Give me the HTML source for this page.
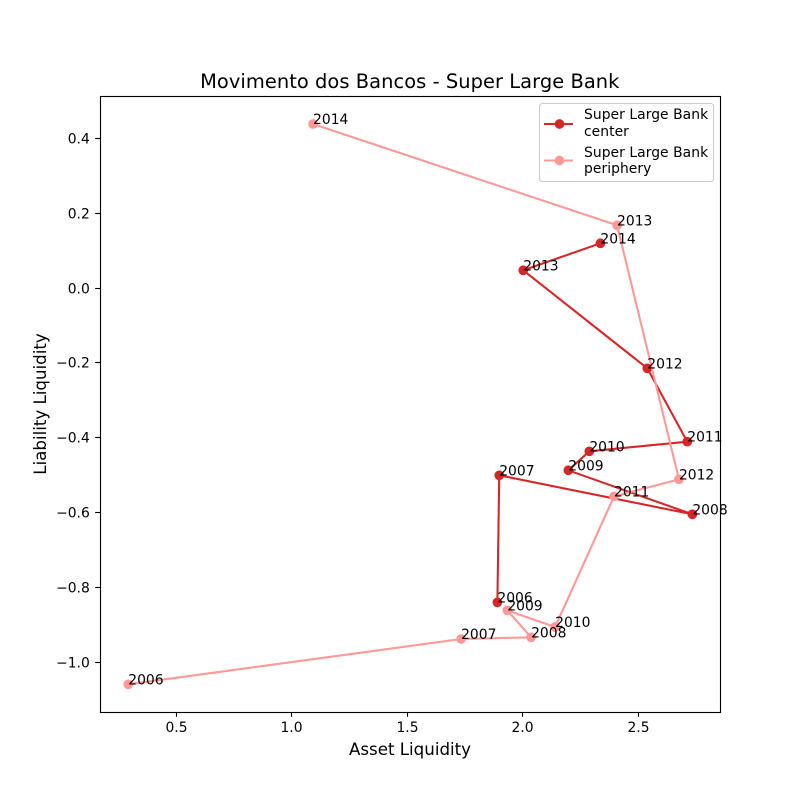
<!DOCTYPE html>
<html lang="pt">
<head>
<meta charset="utf-8">
<title>Movimento dos Bancos - Super Large Bank</title>
<style>
html,body{margin:0;padding:0;background:#fff;}
svg{display:block;font-family:"DejaVu Sans","Liberation Sans",sans-serif;}
</style>
</head>
<body>
<svg id="chart" xmlns="http://www.w3.org/2000/svg" width="800" height="800" viewBox="0 0 800 800">
  <rect x="0" y="0" width="800" height="800" fill="#ffffff"/>
  <rect x="100" y="96" width="620" height="616" fill="#ffffff"/>
  <g id="series-layer"></g>
  <g id="label-layer"></g>
  <g id="axis-layer"></g>
  <text x="409.8" y="88" font-size="19.44" letter-spacing="0.05" text-anchor="middle" fill="#000">Movimento dos Bancos - Super Large Bank</text>
  <text x="410" y="755" font-size="16.67" text-anchor="middle" fill="#000">Asset Liquidity</text>
  <text transform="translate(46 404) rotate(-90)" font-size="16.67" text-anchor="middle" fill="#000">Liability Liquidity</text>
  <g>
    <rect x="539.5" y="103.5" width="174" height="78" rx="2.8" ry="2.8" fill="#ffffff" fill-opacity="0.8" stroke="#cccccc" stroke-width="1.1"/>
    <g>
      <line x1="544" y1="124" x2="573" y2="124" stroke="#d62728" stroke-width="2.08"/>
      <circle cx="559.5" cy="124" r="4.86" fill="#d62728"/>
      <text font-size="13.89" letter-spacing="0.05" fill="#000"><tspan x="584" y="119">Super Large Bank</tspan><tspan x="584" y="136">center</tspan></text>
    </g>
    <g>
      <line x1="544" y1="160.5" x2="573" y2="160.5" stroke="#ff9896" stroke-width="2.08"/>
      <circle cx="559.5" cy="160.5" r="4.86" fill="#ff9896"/>
      <text font-size="13.89" letter-spacing="0.05" fill="#000"><tspan x="584" y="157">Super Large Bank</tspan><tspan x="584" y="173">periphery</tspan></text>
    </g>
  </g>
</svg>
<script>
const years = [2006, 2007, 2008, 2009, 2010, 2011, 2012, 2013, 2014];
const centerAsset = [1.89, 1.898, 2.734, 2.197, 2.288, 2.712, 2.539, 2.002, 2.336];
const centerLiability = [-0.8395, -0.5003, -0.6044, -0.4869, -0.4362, -0.4105, -0.2145, 0.0473, 0.1194];
const peripheryAsset = [0.292, 1.733, 2.036, 1.933, 2.14, 2.395, 2.676, 2.408, 1.092];
const peripheryLiability = [-1.0585, -0.9375, -0.933, -0.861, -0.9054, -0.5564, -0.511, 0.1675, 0.438];
const xTickValues = [0.5, 1.0, 1.5, 2.0, 2.5];
const yTickValues = [0.4, 0.2, 0.0, -0.2, -0.4, -0.6, -0.8, -1.0];

const NS = 'http://www.w3.org/2000/svg';
const plotLeft = 100, plotRight = 720, plotTop = 96, plotBottom = 712;
const xScale = 231, yScale = 374.4;
function xPos(v) { return 176.3 + (v - 0.5) * xScale; }
function yPos(v) { return 288 - v * yScale; }
function make(tag, attrs, parent) {
  const el = document.createElementNS(NS, tag);
  for (const k in attrs) el.setAttribute(k, attrs[k]);
  parent.appendChild(el);
  return el;
}
function drawSeries(key, color, xs, ys) {
  const layer = document.getElementById('series-layer');
  const group = make('g', {}, layer);
  
  
  const pts = xs.map((v, i) => xPos(v).toFixed(2) + ',' + yPos(ys[i]).toFixed(2)).join(' ');
  const line = make('polyline', { points: pts, fill: 'none', stroke: color, 'stroke-width': 2.08, 'stroke-linejoin': 'round' }, group);
  
  
  xs.forEach((v, i) => {
    const dot = make('circle', { cx: xPos(v), cy: yPos(ys[i]), r: 4.86, fill: color }, group);
    
    
  });
}
function drawLabels(key, xs, ys) {
  const layer = document.getElementById('label-layer');
  xs.forEach((v, i) => {
    const t = make('text', { x: xPos(v), y: yPos(ys[i]), 'font-size': 13.89, fill: '#000' }, layer);
    t.textContent = String(years[i]);
    
    
  });
}
function drawAxes() {
  const layer = document.getElementById('axis-layer');
  xTickValues.forEach(v => {
    const x = Math.floor(xPos(v)) + 0.5;
    const tick = make('line', { x1: x, x2: x, y1: plotBottom, y2: plotBottom + 4.86, stroke: '#000', 'stroke-width': 1.11 }, layer);
    
    
    const t = make('text', { x: x, y: 732, 'font-size': 13.89, 'text-anchor': 'middle', fill: '#000' }, layer);
    t.textContent = v.toFixed(1);
    
    
  });
  yTickValues.forEach(v => {
    const y = Math.floor(yPos(v)) + 0.5;
    const tick = make('line', { x1: plotLeft - 4.86, x2: plotLeft, y1: y, y2: y, stroke: '#000', 'stroke-width': 1.11 }, layer);
    
    
    const t = make('text', { x: 89.8, y: y + 5, 'font-size': 13.89, 'text-anchor': 'end', fill: '#000' }, layer);
    t.textContent = v.toFixed(1).replace('-', '\u2212');
    
    
  });
  const frame = make('rect', { x: plotLeft + 0.5, y: plotTop + 0.5, width: plotRight - plotLeft, height: plotBottom - plotTop, fill: 'none', stroke: '#000', 'stroke-width': 1.11 }, layer);
  
  
}
drawSeries('center', '#d62728', centerAsset, centerLiability);
drawSeries('periphery', '#ff9896', peripheryAsset, peripheryLiability);
drawLabels('center', centerAsset, centerLiability);
drawLabels('periphery', peripheryAsset, peripheryLiability);
drawAxes();
</script>
</body>
</html>
